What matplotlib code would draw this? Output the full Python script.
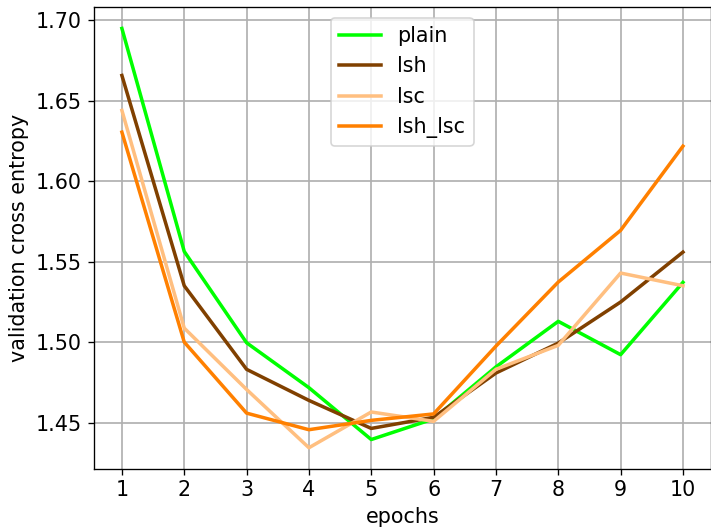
import matplotlib
matplotlib.use("Agg")
import matplotlib.pyplot as plt

epochs = [1, 2, 3, 4, 5, 6, 7, 8, 9, 10]
plain = [1.695, 1.5565, 1.4998, 1.4719, 1.4397, 1.4525, 1.4848, 1.5131, 1.4924, 1.5373]
lsh = [1.6658, 1.5352, 1.4833, 1.4640, 1.4466, 1.4535, 1.4810, 1.4996, 1.5251, 1.5561]
lsc = [1.6441, 1.5089, 1.4708, 1.4346, 1.4568, 1.4510, 1.4833, 1.4982, 1.5431, 1.5352]
lsh_lsc = [1.6306, 1.5002, 1.4561, 1.4458, 1.4516, 1.4556, 1.4977, 1.5375, 1.5696, 1.6219]

series = [("plain", plain, "#00ff00"), ("lsh", lsh, "#804000"),
          ("lsc", lsc, "#ffbf80"), ("lsh_lsc", lsh_lsc, "#ff8000")]

DPI = 120
plt.rcParams["font.size"] = 12.4
fig = plt.figure(figsize=(711 / DPI, 528 / DPI), dpi=DPI)
ax = fig.add_axes([0.132, 0.1123, 0.868, 0.8735])
for name, vals, col in series:
    ax.plot(epochs, vals, color=col, lw=2.1, label=name)
ax.set_xticks(epochs)
ax.grid(True, color="#b0b0b0", lw=1.2, alpha=0.85)
ax.set_xlabel("epochs")
ax.set_ylabel("validation cross entropy")
ax.legend(loc="upper center")
fig.savefig("out.png", dpi=DPI)
